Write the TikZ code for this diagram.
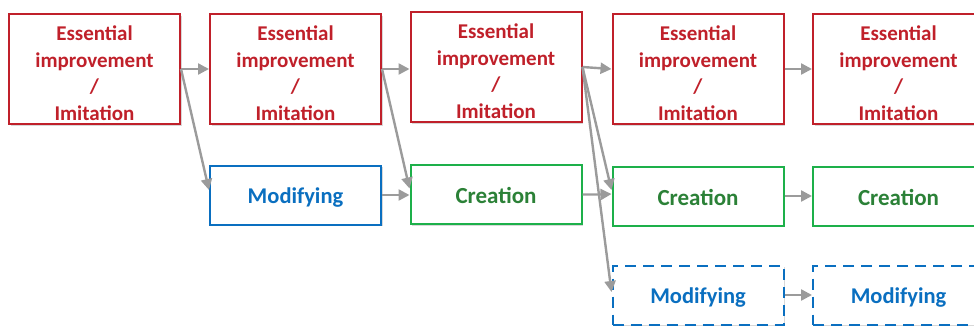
\documentclass[tikz,border=0pt]{standalone}
\usepackage{fontspec}
\setmainfont{Carlito}
\usetikzlibrary{arrows.meta,shadows}
\definecolor{essred}{HTML}{C0202A}
\definecolor{modblue}{HTML}{0A6FC0}
\definecolor{creline}{HTML}{1DB04A}
\definecolor{cretext}{HTML}{2B8137}
\definecolor{flowgray}{HTML}{9B9B9B}
\newcommand{\esslabel}{\rule{0pt}{23pt}Essential\\improvement\\/\\Imitation}
\begin{document}
\begin{tikzpicture}[x=1pt,y=-1pt,
  basebox/.style={draw, fill=white, line width=2pt, align=center, inner sep=0pt,
    drop shadow={shadow xshift=1.6pt, shadow yshift=-1.6pt, fill=black!30, opacity=0.5}},
  essbox/.style={basebox, draw=essred, text=essred, minimum width=171pt, minimum height=110pt,
    font=\fontsize{21}{26.5}\selectfont\bfseries},
  modbox/.style={basebox, draw=modblue, text=modblue, minimum width=171pt, minimum height=59pt,
    font=\fontsize{22.5}{27}\selectfont\bfseries, execute at begin node={\rule{0pt}{21pt}}},
  modnext/.style={modbox, dashed, dash pattern=on 11pt off 7pt},
  crebox/.style={basebox, draw=creline, text=cretext, minimum width=171pt, minimum height=59pt,
    font=\fontsize{23}{27}\selectfont\bfseries, execute at begin node={\rule{0pt}{19pt}}},
  flow/.style={draw=flowgray, line width=2.4pt, -{Triangle[length=11pt,width=11pt]}}]
\useasboundingbox (0,0) rectangle (974,325);
\clip (0,0) rectangle (974,325);

% top row: essential improvement / imitation
\node[essbox] (e1) at (94.5,69) {\esslabel};
\node[essbox] (e2) at (295.5,69) {\esslabel};
\node[essbox] (e3) at (496,67) {\esslabel};
\node[essbox] (e4) at (698,69) {\esslabel};
\node[essbox] (e5) at (898.5,69) {\esslabel};

% middle row
\node[modbox] (m1) at (295.5,195) {Modifying};
\node[crebox] (c1) at (496,194.5) {Creation};
\node[crebox] (c2) at (698,196) {Creation};
\node[crebox] (c3) at (898.5,196) {Creation};

% bottom row
\node[modnext] (m2) at (698,295) {Modifying};
\node[modnext] (m3) at (898.5,295) {Modifying};

% connectors
\draw[flow] (e1.east) -- (e2.west);
\draw[flow] (e1.east) -- ([yshift=5pt]m1.west);
\draw[flow] (e2.east) -- (e3.west |- e2.east);
\draw[flow] (e2.east) -- ([yshift=6pt]c1.west);
\draw[flow] (m1.east) -- (c1.west |- m1.east);
\draw[flow] (e3.east) -- (e4.west);
\draw[flow] (e3.east) -- ([yshift=6pt]c2.west);
\draw[flow] (e3.east) -- ([yshift=3pt]m2.west);
\draw[flow] (c1.east) -- ++(17,0) -- ([yshift=2pt]c2.west);
\draw[flow] (e4.east) -- (e5.west);
\draw[flow] (c2.east) -- (c3.west);
\draw[flow] (m2.east) -- (m3.west);
\end{tikzpicture}
\end{document}
